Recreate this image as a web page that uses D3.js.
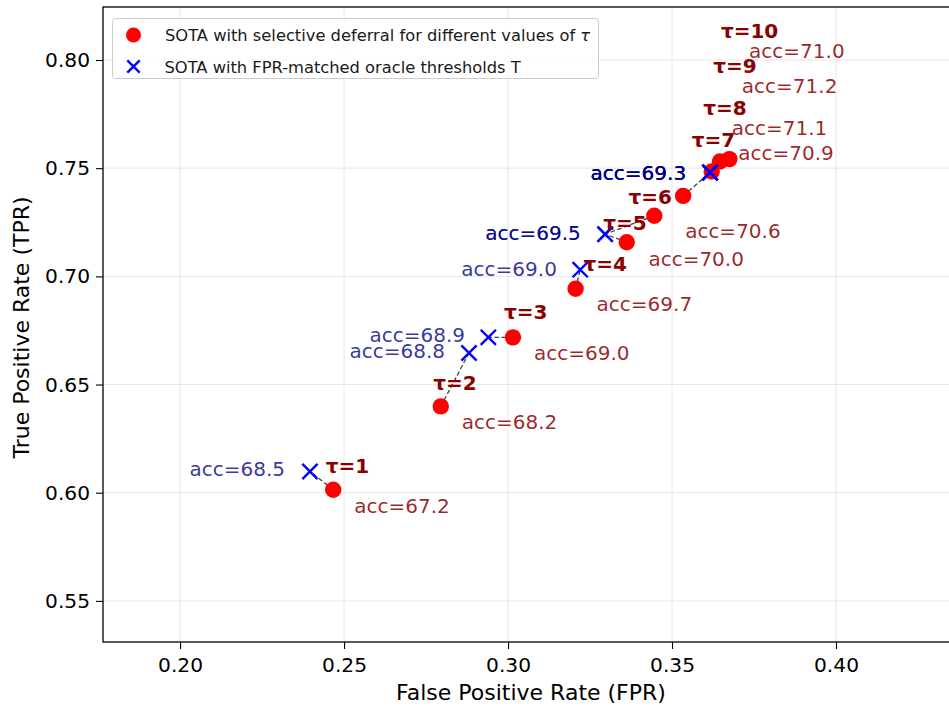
<!DOCTYPE html>
<html>
<head>
<meta charset="utf-8">
<script src="https://cdn.jsdelivr.net/npm/d3@7/dist/d3.min.js"></script>
<style>
body{margin:0;background:#fff;}
svg{display:block;font-family:"DejaVu Sans",sans-serif;}
</style>
</head>
<body>
<div id="vis"></div>
<script>
//data----
const taus = [1, 2, 3, 4, 5, 6, 7, 8, 9, 10]

//selective deferral (red dots)
const deferFPR = [0.2467, 0.2795, 0.3015, 0.3206, 0.3362, 0.3446, 0.3534, 0.3621, 0.3646, 0.3675]
const deferTPR = [0.6014, 0.6399, 0.6718, 0.6943, 0.7158, 0.7280, 0.7372, 0.7485, 0.7531, 0.7542]
const deferAcc = [67.2, 68.2, 69.0, 69.7, 70.0, 70.6, 70.9, 71.1, 71.2, 71.0]

//FPR-matched oracle thresholds (blue crosses)
const oracleFPR = [0.2396, 0.2881, 0.2940, 0.3220, 0.3296, 0.3296, 0.3616, 0.3616, 0.3616, 0.3616]
const oracleTPR = [0.6098, 0.6646, 0.6718, 0.7031, 0.7195, 0.7195, 0.7480, 0.7480, 0.7480, 0.7480]
const oracleAcc = [68.5, 68.8, 68.9, 69.0, 69.5, 69.5, 69.3, 69.3, 69.3, 69.3]

//where the annotations sit, in data units (like xytext)
const tauLabelFPR = [0.2444, 0.2772, 0.2988, 0.3230, 0.3290, 0.3367, 0.3560, 0.3595, 0.3626, 0.3649]
const tauLabelTPR = [0.6092, 0.6476, 0.6804, 0.7023, 0.7215, 0.7336, 0.7600, 0.7747, 0.7940, 0.8101]
const deferLabelFPR = [0.2531, 0.2859, 0.3079, 0.3270, 0.3428, 0.3540, 0.3702, 0.3682, 0.3713, 0.3735]
const deferLabelTPR = [0.5906, 0.6294, 0.6615, 0.6838, 0.7050, 0.7177, 0.7539, 0.7654, 0.7847, 0.8009]
const oracleLabelFPR = [0.2320, 0.2808, 0.2869, 0.3149, 0.3222, 0.3222, 0.3543, 0.3543, 0.3543, 0.3543]
const oracleLabelTPR = [0.6075, 0.6623, 0.6695, 0.7000, 0.7169, 0.7169, 0.7446, 0.7446, 0.7446, 0.7446]

const xTicks = [0.20, 0.25, 0.30, 0.35, 0.40]
const yTicks = [0.55, 0.60, 0.65, 0.70, 0.75, 0.80]
const xDomain = [0.1765, 0.4372]
const yDomain = [0.5310, 0.8245]

const legendLabels = ["SOTA with selective deferral for different values of ", "SOTA with FPR-matched oracle thresholds T"]

function drawChart(){
    const dataset = taus.map((t, i) => ({
        tau: t,
        fpr: deferFPR[i], tpr: deferTPR[i], acc: deferAcc[i],
        ofpr: oracleFPR[i], otpr: oracleTPR[i], oacc: oracleAcc[i],
        tx: tauLabelFPR[i], ty: tauLabelTPR[i],
        ax: deferLabelFPR[i], ay: deferLabelTPR[i],
        bx: oracleLabelFPR[i], by: oracleLabelTPR[i],
    }))

    //dimensions---
    let dimensions = {
        width: 949,
        height: 707,
        margins: {left: 103, top: 7, bottom: 65},
    }
    dimensions.boundedwidth = 855  //runs past the right edge, as in the picture
    dimensions.boundedheight = dimensions.height - dimensions.margins.top - dimensions.margins.bottom

    const wrapper = d3.select("#vis")
        .append("svg")
        .attr("width", dimensions.width)
        .attr("height", dimensions.height)

    const bounds = wrapper.append("g")
        .attr("transform", `translate(${dimensions.margins.left},${dimensions.margins.top})`)

    //scales----
    const xScale = d3.scaleLinear().domain(xDomain).range([0, dimensions.boundedwidth])
    const yScale = d3.scaleLinear().domain(yDomain).range([dimensions.boundedheight, 0])

    //grid
    const grid = bounds.append("g").attr("class", "grid")
    grid.selectAll(".gx").data(xTicks).enter().append("line")
        .attr("x1", d => xScale(d)).attr("x2", d => xScale(d))
        .attr("y1", 0).attr("y2", dimensions.boundedheight)
        .attr("stroke", "#b0b0b0").attr("stroke-opacity", 0.3).attr("stroke-width", 1)
    grid.selectAll(".gy").data(yTicks).enter().append("line")
        .attr("x1", 0).attr("x2", dimensions.boundedwidth)
        .attr("y1", d => yScale(d)).attr("y2", d => yScale(d))
        .attr("stroke", "#b0b0b0").attr("stroke-opacity", 0.3).attr("stroke-width", 1)

    //axes
    const xAxis = bounds.append("g")
        .attr("transform", `translate(0,${dimensions.boundedheight})`)
        .call(d3.axisBottom(xScale).tickValues(xTicks).tickFormat(d3.format(".2f")).tickSize(7).tickPadding(8.5))
    const yAxis = bounds.append("g")
        .call(d3.axisLeft(yScale).tickValues(yTicks).tickFormat(d3.format(".2f")).tickSize(7).tickPadding(6))
    ;[xAxis, yAxis].forEach(a => {
        a.select(".domain").remove()
        a.selectAll("text").attr("font-size", 20.2).attr("font-family", "DejaVu Sans").attr("fill", "#000")
        a.selectAll("line").attr("stroke", "#000").attr("stroke-width", 1.1)
    })

    //frame
    bounds.append("rect")
        .attr("width", dimensions.boundedwidth)
        .attr("height", dimensions.boundedheight)
        .attr("fill", "none").attr("stroke", "#000").attr("stroke-width", 1.3)

    //axis labels
    wrapper.append("text")
        .attr("x", 531).attr("y", 700)
        .attr("text-anchor", "middle").attr("font-size", 22)
        .text("False Positive Rate (FPR)")
    wrapper.append("text")
        .attr("transform", `translate(29,${dimensions.margins.top + dimensions.boundedheight / 2 + 3}) rotate(-90)`)
        .attr("text-anchor", "middle").attr("font-size", 22)
        .text("True Positive Rate (TPR)")

    //dashed connectors
    bounds.append("g").selectAll("line").data(dataset).enter().append("line")
        .attr("x1", d => xScale(d.fpr)).attr("y1", d => yScale(d.tpr))
        .attr("x2", d => xScale(d.ofpr)).attr("y2", d => yScale(d.otpr))
        .attr("stroke", "#000").attr("stroke-opacity", 0.75)
        .attr("stroke-width", 1.3).attr("stroke-dasharray", "4.5,2.5")

    //red dots
    bounds.append("g").selectAll("circle").data(dataset).enter().append("circle")
        .attr("cx", d => xScale(d.fpr)).attr("cy", d => yScale(d.tpr))
        .attr("r", 8.2).attr("fill", "#ff0000")

    //blue crosses
    const cross = (g, s) => g.append("path")
        .attr("d", `M${-s},${-s}L${s},${s}M${-s},${s}L${s},${-s}`)
        .attr("stroke", "#0000ff").attr("stroke-width", 2.4).attr("fill", "none")
    bounds.append("g").selectAll("g").data(dataset).enter().append("g")
        .attr("transform", d => `translate(${xScale(d.ofpr)},${yScale(d.otpr)})`)
        .each(function(){ cross(d3.select(this), 7.6) })

    //annotations
    const notes = bounds.append("g").attr("font-size", 20)
    notes.selectAll(".tau").data(dataset).enter().append("text")
        .attr("x", d => xScale(d.tx)).attr("y", d => yScale(d.ty))
        .attr("font-weight", "bold").attr("fill", "#8b0000")
        .text(d => `τ=${d.tau}`)
    notes.selectAll(".acc").data(dataset).enter().append("text")
        .attr("x", d => xScale(d.ax)).attr("y", d => yScale(d.ay))
        .attr("fill", "#8b0000").attr("fill-opacity", 0.85)
        .text(d => `acc=${d.acc.toFixed(1)}`)
    notes.selectAll(".oacc").data(dataset).enter().append("text")
        .attr("x", d => xScale(d.bx)).attr("y", d => yScale(d.by))
        .attr("text-anchor", "end")
        .attr("fill", "#00008b").attr("fill-opacity", 0.8)
        .text(d => `acc=${d.oacc.toFixed(1)}`)

    //legend
    const legend = wrapper.append("g").attr("transform", "translate(112.5,18.5)")
    legend.append("rect")
        .attr("width", 486).attr("height", 60).attr("rx", 3)
        .attr("fill", "#fff").attr("fill-opacity", 0.8)
        .attr("stroke", "#cccccc").attr("stroke-width", 1)
    legend.append("circle").attr("cx", 21).attr("cy", 16.5).attr("r", 7.5).attr("fill", "#ff0000")
    cross(legend.append("g").attr("transform", "translate(21,48)"), 6.2)
    const l1 = legend.append("text").attr("x", 52.5).attr("y", 22.5).attr("font-size", 16.3).attr("fill", "#1a1a1a")
    l1.append("tspan").text(legendLabels[0])
    l1.append("tspan").attr("font-style", "italic").text("τ")
    legend.append("text").attr("x", 52).attr("y", 54).attr("font-size", 16.3).attr("fill", "#1a1a1a")
        .text(legendLabels[1])
}

drawChart()
</script>
</body>
</html>
